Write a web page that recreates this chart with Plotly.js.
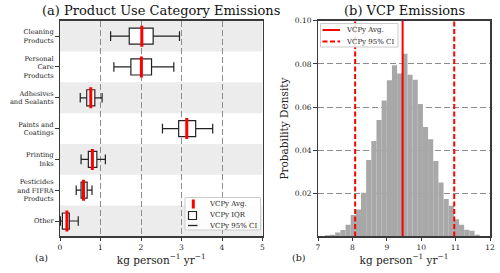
<!DOCTYPE html>
<html>
<head>
<meta charset="utf-8">
<script src="https://cdn.plot.ly/plotly-3.0.1.min.js"></script>
<style>html,body{margin:0;padding:0;background:#fff;}#chart{width:500px;height:273px;}</style>
</head>
<body>
<div id="chart"></div>
<script>
// ---- Panel (a): product use categories ----
const categories = ["Cleaning<br>Products", "Personal<br>Care<br>Products", "Adhesives<br>and Sealants",
  "Paints and<br>Coatings", "Printing<br>Inks", "Pesticides<br>and FIFRA<br>Products", "Other"];
const ciLow  = [1.25, 1.33, 0.50, 2.53, 0.52, 0.40, 0.01];
const iqrLow = [1.71, 1.75, 0.66, 2.93, 0.70, 0.52, 0.06];
const avg    = [2.02, 2.01, 0.76, 3.13, 0.80, 0.58, 0.17];
const iqrHigh= [2.30, 2.26, 0.86, 3.35, 0.91, 0.67, 0.23];
const ciHigh = [2.95, 2.81, 1.04, 3.77, 1.12, 0.79, 0.45];
const xTicksA = [0, 1, 2, 3, 4, 5];
const legendA = ["VCPy Avg.", "VCPy IQR", "VCPy 95% CI"];

// ---- Panel (b): VCP emissions histogram ----
const binStart = 7.2;
const binWidth = 0.15;
const density = [0.0005, 0.0008, 0.0018, 0.0030, 0.0054, 0.0099, 0.0125, 0.0203, 0.0354, 0.0442,
  0.0540, 0.0630, 0.0724, 0.0794, 0.0755, 0.0847, 0.0750, 0.0727, 0.0614, 0.0507,
  0.0450, 0.0350, 0.0250, 0.0173, 0.0142, 0.0080, 0.0054, 0.0031, 0.0026, 0.0008];
const vcpAvg = 9.46;
const vcpCI = [8.08, 10.96];
const xTicksB = [7, 8, 9, 10, 11, 12];
const yTicksB = [0.02, 0.04, 0.06, 0.08, 0.10];
const legendB = ["VCPy Avg.", "VCPy 95% CI"];

const F = "DejaVu Serif, serif";
const W = 500, H = 273;
const px = x => x / W;          // pixel -> paper x
const py = y => 1 - y / H;      // pixel -> paper y
const catIdx = categories.map((_, i) => i);
const binCenters = density.map((_, i) => binStart + binWidth * (i + 0.5));

const traces = [
  {
    type: "box", orientation: "h", name: legendA[1], y: catIdx,
    q1: iqrLow, median: avg, q3: iqrHigh, lowerfence: ciLow, upperfence: ciHigh,
    width: 0.52, whiskerwidth: 0.6, boxpoints: false,
    fillcolor: "#ffffff", line: {color: "#222222", width: 1.2},
    xaxis: "x", yaxis: "y", showlegend: false, hoverinfo: "skip"
  },
  {
    type: "scatter", mode: "markers", name: legendA[0], x: avg, y: catIdx,
    marker: {symbol: "line-ns", size: 15, line: {color: "#ff0000", width: 3}},
    xaxis: "x", yaxis: "y", showlegend: false
  },
  {
    type: "bar", x: binCenters, y: density, width: binWidth,
    marker: {color: "#a8a8a8", line: {width: 0}},
    xaxis: "x2", yaxis: "y2", showlegend: false
  },
  {
    type: "scatter", mode: "lines", name: legendB[0], x: [vcpAvg, vcpAvg], y: [0, 0.1],
    line: {color: "#ff0000", width: 2},
    xaxis: "x2", yaxis: "y2", showlegend: false
  },
  {
    type: "scatter", mode: "lines", name: legendB[1],
    x: [vcpCI[0], vcpCI[0], null, vcpCI[1], vcpCI[1]], y: [0, 0.1, null, 0, 0.1],
    line: {color: "#ff0000", width: 2, dash: "5px,2.5px"},
    xaxis: "x2", yaxis: "y2", showlegend: false
  }
];

const shapes = [];
catIdx.forEach(i => {
  if (i % 2 === 0) shapes.push({type: "rect", xref: "x", yref: "y", x0: 0, x1: 5, y0: i - 0.5, y1: i + 0.5,
    fillcolor: "#ececec", line: {width: 0}, layer: "below"});
});

// Legend (a) frame and symbols
const pshape = (o) => Object.assign({xref: "paper", yref: "paper", layer: "above"}, o);
shapes.push(pshape({type: "rect", x0: px(185), x1: px(260.5), y0: py(197.5), y1: py(230),
  fillcolor: "rgba(255,255,255,0.9)", line: {color: "#cccccc", width: 1}}));
shapes.push(pshape({type: "line", x0: px(193.3), x1: px(193.3), y0: py(199.5), y1: py(208.5),
  line: {color: "#ff0000", width: 3}}));
shapes.push(pshape({type: "rect", x0: px(188.5), x1: px(196.5), y0: py(211.5), y1: py(219.5),
  fillcolor: "#ffffff", line: {color: "#222222", width: 1.2}}));
shapes.push(pshape({type: "line", x0: px(188), x1: px(197.5), y0: py(225.5), y1: py(225.5),
  line: {color: "#222222", width: 1.3}}));
// Legend (b) frame and symbols
shapes.push(pshape({type: "rect", x0: px(320.5), x1: px(398), y0: py(23.5), y1: py(47),
  fillcolor: "rgba(255,255,255,0.9)", line: {color: "#cccccc", width: 1}}));
shapes.push(pshape({type: "line", x0: px(322.5), x1: px(340), y0: py(30), y1: py(30),
  line: {color: "#ff0000", width: 2}}));
shapes.push(pshape({type: "line", x0: px(322.5), x1: px(340), y0: py(41.5), y1: py(41.5),
  line: {color: "#ff0000", width: 2, dash: "5px,2.5px"}}));

const axisCommon = {
  showline: true, mirror: true, linecolor: "#3a3a3a", linewidth: 1.5,
  ticks: "outside", ticklen: 3.5, tickwidth: 1, tickcolor: "#3a3a3a",
  tickfont: {family: F, size: 7.5, color: "#222"}, zeroline: false
};

const txt = (text, x, y, size, anchor) => ({text: text, xref: "paper", yref: "paper", x: px(x), y: py(y),
  xanchor: anchor || "left", yanchor: "middle", showarrow: false, font: {family: F, size: size, color: "#222"}});

const layout = {
  width: W, height: H, margin: {l: 0, r: 0, t: 0, b: 0},
  paper_bgcolor: "#fff", plot_bgcolor: "#fff", font: {family: F, color: "#222"},
  showlegend: false,
  xaxis: Object.assign({}, axisCommon, {
    domain: [0.12, 0.525], range: [0, 5], tickmode: "array", tickvals: xTicksA,
    showgrid: true, gridcolor: "#8c8c8c", griddash: "6px,3px", gridwidth: 1, anchor: "y",
    title: {text: "kg person<sup>−1</sup> yr<sup>−1</sup>", font: {family: F, size: 10.5}, standoff: 3}
  }),
  yaxis: Object.assign({}, axisCommon, {
    domain: [0.134, 0.924], range: [6.5, -0.5], tickmode: "array", tickvals: catIdx, ticktext: categories,
    showgrid: false, anchor: "x", tickfont: {family: F, size: 6.7, color: "#222"}
  }),
  xaxis2: Object.assign({}, axisCommon, {
    domain: [0.636, 0.98], range: [7, 12], tickmode: "array", tickvals: xTicksB,
    showgrid: false, anchor: "y2",
    title: {text: "kg person<sup>−1</sup> yr<sup>−1</sup>", font: {family: F, size: 10.5}, standoff: 3}
  }),
  yaxis2: Object.assign({}, axisCommon, {
    domain: [0.134, 0.924], range: [0, 0.1], tickmode: "array", tickvals: yTicksB,
    ticktext: yTicksB.map(v => v.toFixed(2)),
    showgrid: true, gridcolor: "#8c8c8c", griddash: "6px,3px", gridwidth: 1, anchor: "x2",
    title: {text: "Probability Density", font: {family: F, size: 10.5}, standoff: 4}
  }),
  shapes: shapes,
  annotations: [
    Object.assign(txt("(a) Product Use Category Emissions", 160.5, 10.5, 13, "center"), {font: {family: F, size: 13, color: "#111"}}),
    Object.assign(txt("(b) VCP Emissions", 404, 10.5, 13, "center"), {font: {family: F, size: 13, color: "#111"}}),
    txt("(a)", 41.5, 257.5, 9.5, "center"),
    txt("(b)", 299, 257.5, 9.5, "center"),
    txt(legendA[0], 206.5, 204, 7),
    txt(legendA[1], 206.5, 215, 7),
    txt(legendA[2], 206.5, 225.5, 7),
    txt(legendB[0], 344.3, 30, 7),
    txt(legendB[1], 344.3, 41.5, 7)
  ]
};

Plotly.newPlot("chart", traces, layout, {displayModeBar: false, staticPlot: true});
</script>
</body>
</html>
